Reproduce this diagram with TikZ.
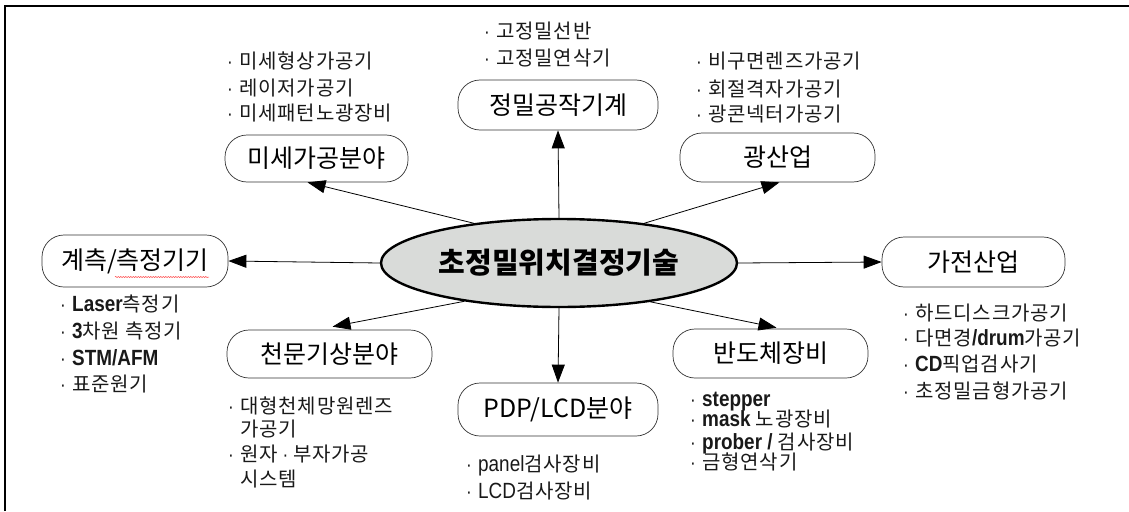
\documentclass[tikz,border=0pt]{standalone}
\usepackage{fontspec}
\setmainfont{Noto Sans CJK KR}
\newfontfamily\kolist[LetterSpace=4]{Noto Sans CJK KR}
\newfontfamily\lafont[FakeStretch=0.86]{Liberation Sans}
\usetikzlibrary{arrows.meta,shapes.geometric,decorations.pathmorphing}
\newcommand\lt[1]{{\lafont\fontsize{22}{22}\selectfont #1}}
\newcommand\ltb[1]{{\lafont\bfseries\fontsize{22}{22}\selectfont #1}}
\newcommand\bl{\makebox[12pt][l]{\lafont ·}}
\definecolor{ellgray}{HTML}{D9DBD9}
\tikzset{
  fbox/.style={draw=black!80, line width=0.7pt, rounded corners=22pt, minimum height=50pt, inner sep=0pt, font=\fontsize{25}{28}\selectfont},
  item/.style={anchor=base west, inner sep=0pt, font=\kolist\fontsize{20}{22}\selectfont, text=black!90},
  arr/.style={-{Triangle[length=18pt,width=13pt]}, line width=0.8pt},
  frame/.style={line width=2.5pt}
}
\begin{document}
\begin{tikzpicture}[x=1pt,y=-1pt]
\useasboundingbox (0,0) rectangle (1129,511);
\draw[frame] (5,511) -- (5,6) -- (1129,6);

% center
\node[ellipse, draw, line width=2.4pt, fill=ellgray, minimum width=356pt, minimum height=88pt, inner sep=0pt,
      font=\bfseries\fontsize{29}{32}\selectfont] (c) at (559,263) {초정밀위치결정기술};

% category boxes
\node[fbox, minimum width=183pt, minimum height=47pt] (mise)  at (316.5,158.5) {미세가공분야};
\node[fbox, minimum width=200pt] (jeong) at (558,105) {정밀공작기계};
\node[fbox, minimum width=195pt, minimum height=49pt] (gwang) at (777.5,157.5) {광산업};
\node[fbox, minimum width=186pt, minimum height=52pt] (gye)   at (135,261) {계측/측정기기};
\node[fbox, minimum width=183pt] (ga)    at (973.5,262) {가전산업};
\node[fbox, minimum width=205pt, minimum height=48pt] (cheon) at (329.5,354) {천문기상분야};
\node[fbox, minimum width=200pt, minimum height=53pt] (pdp)   at (558,409.5) {PDP/LCD분야};
\node[fbox, minimum width=195pt, minimum height=49pt] (ban)   at (770.5,353.5) {반도체장비};

% spell-check underline
\coordinate (ul1) at (115,277);
\coordinate (ul2) at (209,277);
\draw[red!75, line width=0.5pt, decorate, decoration={snake, amplitude=0.6pt, segment length=2.5pt}] (ul1) -- (ul2);

% connectors
\draw[arr] (c.north) -- (jeong.south);
\draw[arr] (c.south) -- (pdp.north);
\draw[arr] (c.west) -- (gye.east);
\draw[arr] (c.east) -- (ga.west);
\draw[arr] (c.155) -- ([xshift=-9pt]mise.south);
\draw[arr] (c.25) -- ([xshift=2pt]gwang.south);
\draw[arr] (c.202) -- ([xshift=3pt,yshift=3pt]cheon.north);
\draw[arr] (c.337) -- ([xshift=6pt,yshift=1pt]ban.north);

% lists
\node[item] (m1) at (227,69)  {\bl 미세형상가공기};
\node[item] (m2) at (227,95)  {\bl 레이저가공기};
\node[item] (m3) at (227,120) {\bl 미세패턴노광장비};

\node[item] (j1) at (484,38) {\bl 고정밀선반};
\node[item] (j2) at (484,66) {\bl 고정밀연삭기};

\node[item] (g1) at (696,69)  {\bl 비구면렌즈가공기};
\node[item] (g2) at (696,96)  {\bl 회절격자가공기};
\node[item] (g3) at (696,121) {\bl 광콘넥터가공기};

\node[item] (k1) at (60,311) {\bl \ltb{Laser}측정기};
\node[item] (k2) at (60,338) {\bl \ltb{3}차원 측정기};
\node[item] (k3) at (60,365) {\bl \ltb{STM/AFM}};
\node[item] (k4) at (60,391) {\bl 표준원기};

\node[item] (t1) at (228,413) {\bl 대형천체망원렌즈};
\node[item] (t2) at (240,436) {가공기};
\node[item] (t3) at (228,461) {\bl 원자{\lafont\ ·\ }부자가공};
\node[item] (t4) at (240,486) {시스템};

\node[item] (p1) at (466,471) {\bl \lt{panel}검사장비};
\node[item] (p2) at (466,498) {\bl \lt{LCD}검사장비};

\node[item] (b1) at (690,406) {\bl \ltb{stepper}};
\node[item] (b2) at (690,426) {\bl \ltb{mask} 노광장비};
\node[item] (b3) at (690,449) {\bl \ltb{prober /} 검사장비};
\node[item] (b4) at (690,469) {\bl 금형연삭기};

\node[item] (e1) at (903,320) {\bl 하드디스크가공기};
\node[item] (e2) at (903,345) {\bl 다면경\ltb{/drum}가공기};
\node[item] (e3) at (903,371) {\bl \ltb{CD}픽업검사기};
\node[item] (e4) at (903,398) {\bl 초정밀금형가공기};
\end{tikzpicture}
\end{document}
